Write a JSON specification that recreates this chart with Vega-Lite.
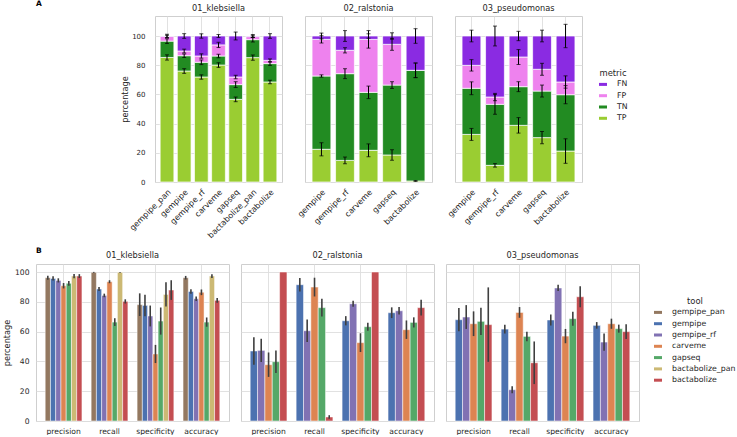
{
  "$schema": "https://vega.github.io/schema/vega-lite/v6.json",
  "background": "white",
  "padding": {"left": 2, "top": 0, "right": 0, "bottom": 0},
  "config": {
    "font": "DejaVu Sans",
    "view": {"stroke": "#cfcfcf", "strokeWidth": 1},
    "axis": {
      "domain": false,
      "ticks": false,
      "grid": true,
      "gridColor": "#dedede",
      "gridWidth": 0.9,
      "labelColor": "#262626",
      "titleColor": "#262626",
      "labelFontSize": 7.6,
      "titleFontSize": 8.2,
      "titleFontWeight": "normal"
    },
    "header": {"labelFontSize": 8.2, "labelColor": "#262626"},
    "legend": {
      "labelFontSize": 7.8,
      "labelColor": "#262626",
      "titleFontSize": 8.4,
      "titleFontWeight": "normal",
      "titleColor": "#262626",
      "titleAnchor": "middle",
      "titlePadding": 3,
      "symbolType": "M-1,-0.375H1V0.375H-1Z",
      "symbolSize": 64,
      "symbolStrokeWidth": 0,
      "rowPadding": 3.3,
      "labelOffset": 10
    },
    "title": {"fontSize": 7.5, "fontWeight": "bold", "color": "#000000"}
  },
  "datasets": {
    "confusion": [
      {"organism": "01_klebsiella", "tool": "gempipe_pan", "metric": "TP", "value": 85.3, "err": 1.8},
      {"organism": "01_klebsiella", "tool": "gempipe_pan", "metric": "TN", "value": 11.2, "err": 1.6},
      {"organism": "01_klebsiella", "tool": "gempipe_pan", "metric": "FP", "value": 3.2, "err": 0.8},
      {"organism": "01_klebsiella", "tool": "gempipe_pan", "metric": "FN", "value": 0.3, "err": 1.2},
      {"organism": "01_klebsiella", "tool": "gempipe", "metric": "TP", "value": 76.0, "err": 1.6},
      {"organism": "01_klebsiella", "tool": "gempipe", "metric": "TN", "value": 10.5, "err": 1.2},
      {"organism": "01_klebsiella", "tool": "gempipe", "metric": "FP", "value": 3.2, "err": 1.3},
      {"organism": "01_klebsiella", "tool": "gempipe", "metric": "FN", "value": 10.3, "err": 1.6},
      {"organism": "01_klebsiella", "tool": "gempipe_rf", "metric": "TP", "value": 71.9, "err": 1.5},
      {"organism": "01_klebsiella", "tool": "gempipe_rf", "metric": "TN", "value": 10.1, "err": 1.6},
      {"organism": "01_klebsiella", "tool": "gempipe_rf", "metric": "FP", "value": 4.3, "err": 1.5},
      {"organism": "01_klebsiella", "tool": "gempipe_rf", "metric": "FN", "value": 13.7, "err": 1.5},
      {"organism": "01_klebsiella", "tool": "carveme", "metric": "TP", "value": 80.1, "err": 1.6},
      {"organism": "01_klebsiella", "tool": "carveme", "metric": "TN", "value": 6.2, "err": 1.2},
      {"organism": "01_klebsiella", "tool": "carveme", "metric": "FP", "value": 7.6, "err": 1.8},
      {"organism": "01_klebsiella", "tool": "carveme", "metric": "FN", "value": 6.1, "err": 1.0},
      {"organism": "01_klebsiella", "tool": "gapseq", "metric": "TP", "value": 56.6, "err": 1.6},
      {"organism": "01_klebsiella", "tool": "gapseq", "metric": "TN", "value": 10.1, "err": 2.0},
      {"organism": "01_klebsiella", "tool": "gapseq", "metric": "FP", "value": 5.2, "err": 1.2},
      {"organism": "01_klebsiella", "tool": "gapseq", "metric": "FN", "value": 28.1, "err": 2.7},
      {"organism": "01_klebsiella", "tool": "bactabolize_pan", "metric": "TP", "value": 85.2, "err": 1.8},
      {"organism": "01_klebsiella", "tool": "bactabolize_pan", "metric": "TN", "value": 12.3, "err": 1.6},
      {"organism": "01_klebsiella", "tool": "bactabolize_pan", "metric": "FP", "value": 2.1, "err": 0.6},
      {"organism": "01_klebsiella", "tool": "bactabolize_pan", "metric": "FN", "value": 0.4, "err": 1.0},
      {"organism": "01_klebsiella", "tool": "bactabolize", "metric": "TP", "value": 68.5, "err": 1.2},
      {"organism": "01_klebsiella", "tool": "bactabolize", "metric": "TN", "value": 12.6, "err": 1.2},
      {"organism": "01_klebsiella", "tool": "bactabolize", "metric": "FP", "value": 2.2, "err": 1.0},
      {"organism": "01_klebsiella", "tool": "bactabolize", "metric": "FN", "value": 16.7, "err": 1.6},
      {"organism": "02_ralstonia", "tool": "gempipe", "metric": "TP", "value": 22.4, "err": 4.5},
      {"organism": "02_ralstonia", "tool": "gempipe", "metric": "TN", "value": 50.2, "err": 0.8},
      {"organism": "02_ralstonia", "tool": "gempipe", "metric": "FP", "value": 25.1, "err": 2.5},
      {"organism": "02_ralstonia", "tool": "gempipe", "metric": "FN", "value": 2.3, "err": 2.0},
      {"organism": "02_ralstonia", "tool": "gempipe_rf", "metric": "TP", "value": 14.8, "err": 2.3},
      {"organism": "02_ralstonia", "tool": "gempipe_rf", "metric": "TN", "value": 59.4, "err": 3.4},
      {"organism": "02_ralstonia", "tool": "gempipe_rf", "metric": "FP", "value": 16.0, "err": 1.8},
      {"organism": "02_ralstonia", "tool": "gempipe_rf", "metric": "FN", "value": 9.8, "err": 3.7},
      {"organism": "02_ralstonia", "tool": "carveme", "metric": "TP", "value": 21.7, "err": 4.4},
      {"organism": "02_ralstonia", "tool": "carveme", "metric": "TN", "value": 39.7, "err": 4.3},
      {"organism": "02_ralstonia", "tool": "carveme", "metric": "FP", "value": 36.3, "err": 6.0},
      {"organism": "02_ralstonia", "tool": "carveme", "metric": "FN", "value": 2.3, "err": 1.5},
      {"organism": "02_ralstonia", "tool": "gapseq", "metric": "TP", "value": 18.5, "err": 3.6},
      {"organism": "02_ralstonia", "tool": "gapseq", "metric": "TN", "value": 47.9, "err": 2.3},
      {"organism": "02_ralstonia", "tool": "gapseq", "metric": "FP", "value": 27.9, "err": 4.1},
      {"organism": "02_ralstonia", "tool": "gapseq", "metric": "FN", "value": 5.7, "err": 2.2},
      {"organism": "02_ralstonia", "tool": "bactabolize", "metric": "TP", "value": 0.7, "err": 0.3},
      {"organism": "02_ralstonia", "tool": "bactabolize", "metric": "TN", "value": 75.8, "err": 5.0},
      {"organism": "02_ralstonia", "tool": "bactabolize", "metric": "FP", "value": 0.0, "err": 5.0},
      {"organism": "02_ralstonia", "tool": "bactabolize", "metric": "FN", "value": 23.5, "err": 5.0},
      {"organism": "03_pseudomonas", "tool": "gempipe", "metric": "TP", "value": 32.6, "err": 4.1},
      {"organism": "03_pseudomonas", "tool": "gempipe", "metric": "TN", "value": 31.6, "err": 4.4},
      {"organism": "03_pseudomonas", "tool": "gempipe", "metric": "FP", "value": 15.7, "err": 3.9},
      {"organism": "03_pseudomonas", "tool": "gempipe", "metric": "FN", "value": 20.1, "err": 4.0},
      {"organism": "03_pseudomonas", "tool": "gempipe_rf", "metric": "TP", "value": 11.4, "err": 1.2},
      {"organism": "03_pseudomonas", "tool": "gempipe_rf", "metric": "TN", "value": 41.8, "err": 6.8},
      {"organism": "03_pseudomonas", "tool": "gempipe_rf", "metric": "FP", "value": 5.0, "err": 2.5},
      {"organism": "03_pseudomonas", "tool": "gempipe_rf", "metric": "FN", "value": 41.8, "err": 6.8},
      {"organism": "03_pseudomonas", "tool": "carveme", "metric": "TP", "value": 38.8, "err": 5.3},
      {"organism": "03_pseudomonas", "tool": "carveme", "metric": "TN", "value": 26.5, "err": 3.4},
      {"organism": "03_pseudomonas", "tool": "carveme", "metric": "FP", "value": 20.3, "err": 5.1},
      {"organism": "03_pseudomonas", "tool": "carveme", "metric": "FN", "value": 14.4, "err": 3.2},
      {"organism": "03_pseudomonas", "tool": "gapseq", "metric": "TP", "value": 30.4, "err": 4.2},
      {"organism": "03_pseudomonas", "tool": "gapseq", "metric": "TN", "value": 31.9, "err": 4.1},
      {"organism": "03_pseudomonas", "tool": "gapseq", "metric": "FP", "value": 14.9, "err": 4.1},
      {"organism": "03_pseudomonas", "tool": "gapseq", "metric": "FN", "value": 22.8, "err": 4.0},
      {"organism": "03_pseudomonas", "tool": "bactabolize", "metric": "TP", "value": 21.2, "err": 8.4},
      {"organism": "03_pseudomonas", "tool": "bactabolize", "metric": "TN", "value": 38.6, "err": 6.2},
      {"organism": "03_pseudomonas", "tool": "bactabolize", "metric": "FP", "value": 8.7, "err": 4.2},
      {"organism": "03_pseudomonas", "tool": "bactabolize", "metric": "FN", "value": 31.5, "err": 8.0}
    ],
    "scores": [
      {"organism": "01_klebsiella", "score": "precision", "tool": "gempipe_pan", "value": 96.2, "err": 1.3},
      {"organism": "01_klebsiella", "score": "precision", "tool": "gempipe", "value": 95.7, "err": 1.4},
      {"organism": "01_klebsiella", "score": "precision", "tool": "gempipe_rf", "value": 94.4, "err": 1.4},
      {"organism": "01_klebsiella", "score": "precision", "tool": "carveme", "value": 90.8, "err": 1.8},
      {"organism": "01_klebsiella", "score": "precision", "tool": "gapseq", "value": 92.4, "err": 1.6},
      {"organism": "01_klebsiella", "score": "precision", "tool": "bactabolize_pan", "value": 97.3, "err": 1.4},
      {"organism": "01_klebsiella", "score": "precision", "tool": "bactabolize", "value": 97.3, "err": 1.3},
      {"organism": "01_klebsiella", "score": "recall", "tool": "gempipe_pan", "value": 99.8, "err": 0.3},
      {"organism": "01_klebsiella", "score": "recall", "tool": "gempipe", "value": 88.6, "err": 1.3},
      {"organism": "01_klebsiella", "score": "recall", "tool": "gempipe_rf", "value": 84.3, "err": 1.2},
      {"organism": "01_klebsiella", "score": "recall", "tool": "carveme", "value": 93.5, "err": 1.0},
      {"organism": "01_klebsiella", "score": "recall", "tool": "gapseq", "value": 66.4, "err": 2.6},
      {"organism": "01_klebsiella", "score": "recall", "tool": "bactabolize_pan", "value": 99.8, "err": 0.3},
      {"organism": "01_klebsiella", "score": "recall", "tool": "bactabolize", "value": 80.3, "err": 1.4},
      {"organism": "01_klebsiella", "score": "specificity", "tool": "gempipe_pan", "value": 78.1, "err": 7.6},
      {"organism": "01_klebsiella", "score": "specificity", "tool": "gempipe", "value": 77.6, "err": 7.2},
      {"organism": "01_klebsiella", "score": "specificity", "tool": "gempipe_rf", "value": 70.5, "err": 7.0},
      {"organism": "01_klebsiella", "score": "specificity", "tool": "carveme", "value": 45.0, "err": 6.1},
      {"organism": "01_klebsiella", "score": "specificity", "tool": "gapseq", "value": 67.1, "err": 9.1},
      {"organism": "01_klebsiella", "score": "specificity", "tool": "bactabolize_pan", "value": 85.0, "err": 8.2},
      {"organism": "01_klebsiella", "score": "specificity", "tool": "bactabolize", "value": 87.9, "err": 6.6},
      {"organism": "01_klebsiella", "score": "accuracy", "tool": "gempipe_pan", "value": 96.2, "err": 1.2},
      {"organism": "01_klebsiella", "score": "accuracy", "tool": "gempipe", "value": 87.0, "err": 1.5},
      {"organism": "01_klebsiella", "score": "accuracy", "tool": "gempipe_rf", "value": 82.1, "err": 1.5},
      {"organism": "01_klebsiella", "score": "accuracy", "tool": "carveme", "value": 86.4, "err": 1.9},
      {"organism": "01_klebsiella", "score": "accuracy", "tool": "gapseq", "value": 66.4, "err": 3.1},
      {"organism": "01_klebsiella", "score": "accuracy", "tool": "bactabolize_pan", "value": 97.3, "err": 1.3},
      {"organism": "01_klebsiella", "score": "accuracy", "tool": "bactabolize", "value": 81.0, "err": 1.6},
      {"organism": "02_ralstonia", "score": "precision", "tool": "gempipe", "value": 47.0, "err": 9.2},
      {"organism": "02_ralstonia", "score": "precision", "tool": "gempipe_rf", "value": 47.4, "err": 7.8},
      {"organism": "02_ralstonia", "score": "precision", "tool": "carveme", "value": 37.8, "err": 8.2},
      {"organism": "02_ralstonia", "score": "precision", "tool": "gapseq", "value": 39.8, "err": 7.6},
      {"organism": "02_ralstonia", "score": "precision", "tool": "bactabolize", "value": 100.0, "err": 0.0},
      {"organism": "02_ralstonia", "score": "recall", "tool": "gempipe", "value": 91.5, "err": 4.5},
      {"organism": "02_ralstonia", "score": "recall", "tool": "gempipe_rf", "value": 60.6, "err": 7.6},
      {"organism": "02_ralstonia", "score": "recall", "tool": "carveme", "value": 89.9, "err": 6.3},
      {"organism": "02_ralstonia", "score": "recall", "tool": "gapseq", "value": 76.1, "err": 6.0},
      {"organism": "02_ralstonia", "score": "recall", "tool": "bactabolize", "value": 2.7, "err": 1.2},
      {"organism": "02_ralstonia", "score": "specificity", "tool": "gempipe", "value": 67.3, "err": 3.1},
      {"organism": "02_ralstonia", "score": "specificity", "tool": "gempipe_rf", "value": 78.7, "err": 2.0},
      {"organism": "02_ralstonia", "score": "specificity", "tool": "carveme", "value": 52.6, "err": 6.3},
      {"organism": "02_ralstonia", "score": "specificity", "tool": "gapseq", "value": 63.3, "err": 2.7},
      {"organism": "02_ralstonia", "score": "specificity", "tool": "bactabolize", "value": 100.0, "err": 0.0},
      {"organism": "02_ralstonia", "score": "accuracy", "tool": "gempipe", "value": 72.7, "err": 3.6},
      {"organism": "02_ralstonia", "score": "accuracy", "tool": "gempipe_rf", "value": 74.0, "err": 2.5},
      {"organism": "02_ralstonia", "score": "accuracy", "tool": "carveme", "value": 61.3, "err": 6.2},
      {"organism": "02_ralstonia", "score": "accuracy", "tool": "gapseq", "value": 66.2, "err": 3.4},
      {"organism": "02_ralstonia", "score": "accuracy", "tool": "bactabolize", "value": 76.1, "err": 5.3},
      {"organism": "03_pseudomonas", "score": "precision", "tool": "gempipe", "value": 68.0, "err": 7.8},
      {"organism": "03_pseudomonas", "score": "precision", "tool": "gempipe_rf", "value": 69.8, "err": 8.0},
      {"organism": "03_pseudomonas", "score": "precision", "tool": "carveme", "value": 65.3, "err": 8.3},
      {"organism": "03_pseudomonas", "score": "precision", "tool": "gapseq", "value": 66.9, "err": 9.2},
      {"organism": "03_pseudomonas", "score": "precision", "tool": "bactabolize", "value": 64.7, "err": 25.0},
      {"organism": "03_pseudomonas", "score": "recall", "tool": "gempipe", "value": 61.7, "err": 3.0},
      {"organism": "03_pseudomonas", "score": "recall", "tool": "gempipe_rf", "value": 21.0, "err": 2.3},
      {"organism": "03_pseudomonas", "score": "recall", "tool": "carveme", "value": 72.9, "err": 3.6},
      {"organism": "03_pseudomonas", "score": "recall", "tool": "gapseq", "value": 56.8, "err": 3.2},
      {"organism": "03_pseudomonas", "score": "recall", "tool": "bactabolize", "value": 39.1, "err": 14.3},
      {"organism": "03_pseudomonas", "score": "specificity", "tool": "gempipe", "value": 67.8, "err": 3.7},
      {"organism": "03_pseudomonas", "score": "specificity", "tool": "gempipe_rf", "value": 89.3, "err": 2.1},
      {"organism": "03_pseudomonas", "score": "specificity", "tool": "carveme", "value": 57.0, "err": 4.8},
      {"organism": "03_pseudomonas", "score": "specificity", "tool": "gapseq", "value": 68.7, "err": 4.7},
      {"organism": "03_pseudomonas", "score": "specificity", "tool": "bactabolize", "value": 83.4, "err": 7.0},
      {"organism": "03_pseudomonas", "score": "accuracy", "tool": "gempipe", "value": 64.2, "err": 2.2},
      {"organism": "03_pseudomonas", "score": "accuracy", "tool": "gempipe_rf", "value": 53.0, "err": 5.8},
      {"organism": "03_pseudomonas", "score": "accuracy", "tool": "carveme", "value": 65.3, "err": 3.4},
      {"organism": "03_pseudomonas", "score": "accuracy", "tool": "gapseq", "value": 62.0, "err": 2.7},
      {"organism": "03_pseudomonas", "score": "accuracy", "tool": "bactabolize", "value": 60.0, "err": 5.0}
    ]
  },
  "vconcat": [
    {
      "title": {"text": "A", "anchor": "start", "frame": "group", "offset": -4},
      "spacing": 0,
      "hconcat": [
        {
          "width": 84,
          "height": 10,
          "data": {"values": []},
          "mark": "point",
          "encoding": {},
          "view": {"stroke": null}
        },
        {
          "data": {"name": "confusion"},
          "facet": {
            "column": {
              "field": "organism",
              "type": "nominal",
              "header": {"title": null, "labelPadding": 3}
            }
          },
          "spacing": 23,
          "bounds": "flush",
          "spec": {
            "width": 127,
            "height": 166,
            "transform": [
              {
                "stack": "value",
                "groupby": ["organism", "tool"],
                "sort": [{"field": "metric", "order": "descending"}],
                "as": ["lower", "upper"]
              }
            ],
            "encoding": {
              "x": {
                "field": "tool",
                "type": "nominal",
                "sort": ["gempipe_pan", "gempipe", "gempipe_rf", "carveme", "gapseq", "bactabolize_pan", "bactabolize"],
                "scale": {"paddingInner": 0.2, "paddingOuter": 0.3},
                "axis": {"title": null, "labelAngle": -45, "labelFontSize": 8, "labelPadding": 6, "bandPosition": 0.5}
              }
            },
            "layer": [
              {
                "mark": {"type": "bar", "stroke": "white", "strokeWidth": 0.7},
                "encoding": {
                  "y": {
                    "field": "lower",
                    "type": "quantitative",
                    "title": "percentage",
                    "scale": {"domain": [0, 113.7], "nice": false},
                    "axis": {"values": [0, 20, 40, 60, 80, 100], "labelFontSize": 7, "labelPadding": 10, "titlePadding": 2}
                  },
                  "y2": {"field": "upper"},
                  "color": {
                    "field": "metric",
                    "type": "nominal",
                    "scale": {"domain": ["FN", "FP", "TN", "TP"], "range": ["#8a2be2", "#ee82ee", "#228b22", "#9acd32"]},
                    "legend": {"title": "metric", "orient": "none", "legendX": 444, "legendY": 53}
                  }
                }
              },
              {
                "mark": {"type": "errorbar", "color": "#000000", "thickness": 1, "ticks": {"size": 4, "thickness": 1}},
                "encoding": {
                  "y": {
                    "field": "upper",
                    "type": "quantitative",
                    "title": "percentage",
                    "axis": {"values": [0, 20, 40, 60, 80, 100], "labelFontSize": 7, "labelPadding": 10, "titlePadding": 2}
                  },
                  "yError": {"field": "err"}
                }
              }
            ]
          },
          "resolve": {"scale": {"x": "independent"}, "axis": {"x": "independent"}}
        }
      ],
      "resolve": {"scale": {"color": "independent"}}
    },
    {
      "title": {"text": "B", "anchor": "start", "frame": "group", "offset": -4},
      "data": {"name": "scores"},
      "facet": {
        "column": {
          "field": "organism",
          "type": "nominal",
          "header": {"title": null, "labelPadding": 3}
        }
      },
      "spacing": 10,
      "spec": {
        "width": 193,
        "height": 157,
        "encoding": {
          "x": {
            "field": "score",
            "type": "nominal",
            "sort": ["precision", "recall", "specificity", "accuracy"],
            "scale": {"paddingInner": 0.2, "paddingOuter": 0.2},
            "axis": {"title": null, "labelAngle": 0, "labelPadding": 5, "bandPosition": 0.5}
          },
          "xOffset": {
            "field": "tool",
            "type": "nominal",
            "sort": ["gempipe_pan", "gempipe", "gempipe_rf", "carveme", "gapseq", "bactabolize_pan", "bactabolize"]
          }
        },
        "layer": [
          {
            "mark": {"type": "bar", "stroke": "white", "strokeWidth": 0.5},
            "encoding": {
              "y": {
                "field": "value",
                "type": "quantitative",
                "title": "percentage",
                "scale": {"domain": [0, 105.4], "nice": false},
                "axis": {"values": [0, 20, 40, 60, 80, 100], "labelPadding": 6, "titlePadding": 3}
              },
              "color": {
                "field": "tool",
                "type": "nominal",
                "scale": {
                  "domain": ["gempipe_pan", "gempipe", "gempipe_rf", "carveme", "gapseq", "bactabolize_pan", "bactabolize"],
                  "range": ["#937860", "#4c72b0", "#8172b3", "#dd8452", "#55a868", "#ccb974", "#c44e52"]
                },
                "legend": {"title": "tool", "orient": "none", "legendX": 618, "legendY": 33}
              }
            }
          },
          {
            "mark": {"type": "errorbar", "color": "#3f3f3f", "thickness": 1.6},
            "encoding": {
              "y": {
                "field": "value",
                "type": "quantitative",
                "title": "percentage",
                "axis": {"values": [0, 20, 40, 60, 80, 100], "labelPadding": 6, "titlePadding": 3}
              },
              "yError": {"field": "err"}
            }
          }
        ]
      },
      "resolve": {"scale": {"xOffset": "independent"}}
    }
  ],
  "spacing": 6,
  "resolve": {"scale": {"color": "independent"}}
}
